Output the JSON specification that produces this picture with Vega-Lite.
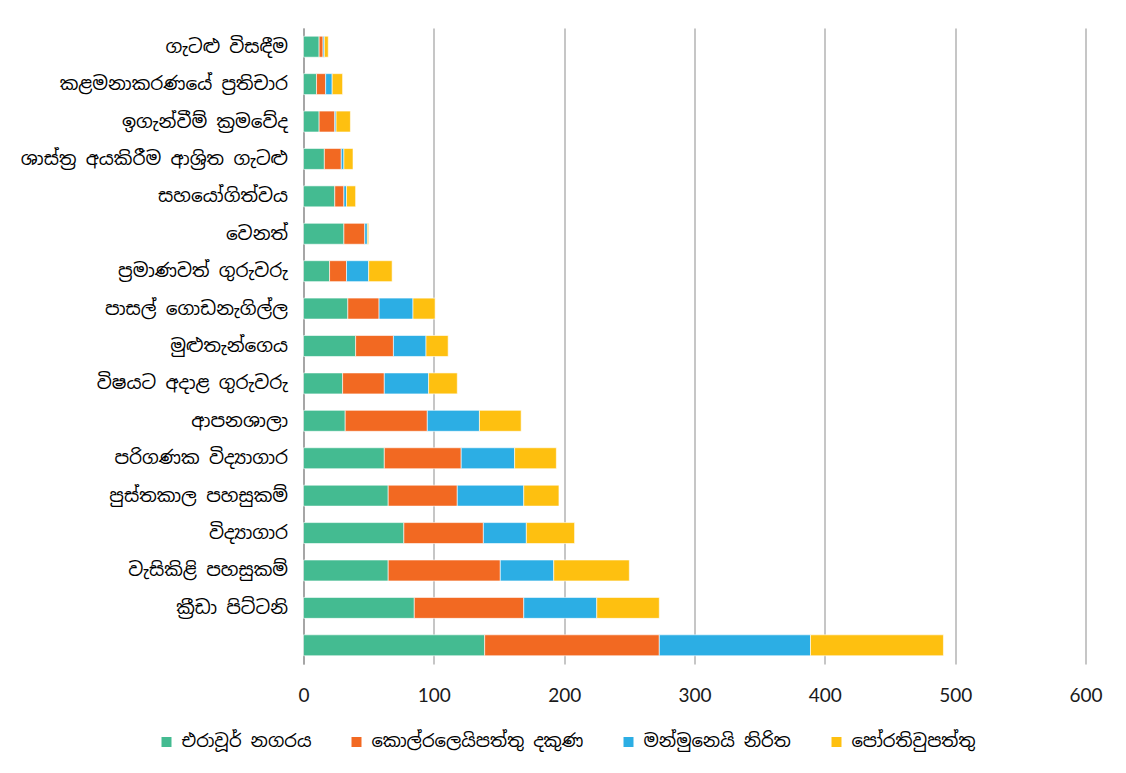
{
  "$schema": "https://vega.github.io/schema/vega-lite/v6.json",
  "width": 782,
  "height": 636,
  "autosize": "none",
  "padding": {"left": 303.5, "top": 28, "right": 40, "bottom": 109},
  "background": "white",
  "view": {"stroke": null},
  "data": {
    "values": [
      {"c": "ගැටළු විසඳීම ", "එරාවූර් නගරය": 12, "කොල්රලෙයිපත්තු දකුණ": 3, "මන්මුනෙයි නිරිත": 1, "පෝරතිවුපත්තු": 3},
      {"c": "කළමනාකරණයේ  ප්‍රතිචාර", "එරාවූර් නගරය": 10, "කොල්රලෙයිපත්තු දකුණ": 7, "මන්මුනෙයි නිරිත": 5, "පෝරතිවුපත්තු": 8},
      {"c": "ඉගැන්වීම් ක්‍රමවේද", "එරාවූර් නගරය": 12, "කොල්රලෙයිපත්තු දකුණ": 12, "මන්මුනෙයි නිරිත": 1, "පෝරතිවුපත්තු": 11},
      {"c": "ශාස්ත්‍ර අයකිරීම ආශ්‍රිත ගැටළු", "එරාවූර් නගරය": 16, "කොල්රලෙයිපත්තු දකුණ": 13, "මන්මුනෙයි නිරිත": 2, "පෝරතිවුපත්තු": 7},
      {"c": "සහයෝගිත්වය", "එරාවූර් නගරය": 24, "කොල්රලෙයිපත්තු දකුණ": 7, "මන්මුනෙයි නිරිත": 2, "පෝරතිවුපත්තු": 7},
      {"c": "වෙනත්", "එරාවූර් නගරය": 31, "කොල්රලෙයිපත්තු දකුණ": 16, "මන්මුනෙයි නිරිත": 2, "පෝරතිවුපත්තු": 1},
      {"c": "ප්‍රමාණවත් ගුරුවරු", "එරාවූර් නගරය": 20, "කොල්රලෙයිපත්තු දකුණ": 13, "මන්මුනෙයි නිරිත": 17, "පෝරතිවුපත්තු": 18},
      {"c": "පාසල් ගොඩනැගිල්ල", "එරාවූර් නගරය": 34, "කොල්රලෙයිපත්තු දකුණ": 24, "මන්මුනෙයි නිරිත": 26, "පෝරතිවුපත්තු": 17},
      {"c": "මුළුතැන්ගෙය", "එරාවූර් නගරය": 40, "කොල්රලෙයිපත්තු දකුණ": 29, "මන්මුනෙයි නිරිත": 25, "පෝරතිවුපත්තු": 17},
      {"c": "විෂයට අදාළ ගුරුවරු", "එරාවූර් නගරය": 30, "කොල්රලෙයිපත්තු දකුණ": 32, "මන්මුනෙයි නිරිත": 34, "පෝරතිවුපත්තු": 22},
      {"c": "ආපනශාලා", "එරාවූර් නගරය": 32, "කොල්රලෙයිපත්තු දකුණ": 63, "මන්මුනෙයි නිරිත": 40, "පෝරතිවුපත්තු": 32},
      {"c": "පරිගණක විද්‍යාගාර ", "එරාවූර් නගරය": 62, "කොල්රලෙයිපත්තු දකුණ": 59, "මන්මුනෙයි නිරිත": 41, "පෝරතිවුපත්තු": 32},
      {"c": "පුස්තකාල පහසුකම්", "එරාවූර් නගරය": 65, "කොල්රලෙයිපත්තු දකුණ": 53, "මන්මුනෙයි නිරිත": 51, "පෝරතිවුපත්තු": 27},
      {"c": "විද්‍යාගාර ", "එරාවූර් නගරය": 77, "කොල්රලෙයිපත්තු දකුණ": 61, "මන්මුනෙයි නිරිත": 33, "පෝරතිවුපත්තු": 37},
      {"c": "වැසිකිළි පහසුකම්", "එරාවූර් නගරය": 65, "කොල්රලෙයිපත්තු දකුණ": 86, "මන්මුනෙයි නිරිත": 41, "පෝරතිවුපත්තු": 58},
      {"c": "ක්‍රීඩා පිට්ටනි", "එරාවූර් නගරය": 85, "කොල්රලෙයිපත්තු දකුණ": 84, "මන්මුනෙයි නිරිත": 56, "පෝරතිවුපත්තු": 48},
      {"c": " ", "එරාවූර් නගරය": 139, "කොල්රලෙයිපත්තු දකුණ": 134, "මන්මුනෙයි නිරිත": 116, "පෝරතිවුපත්තු": 102}
    ]
  },
  "transform": [
    {"fold": ["එරාවූර් නගරය", "කොල්රලෙයිපත්තු දකුණ", "මන්මුනෙයි නිරිත", "පෝරතිවුපත්තු"], "as": ["series", "value"]},
    {"calculate": "indexof(['එරාවූර් නගරය', 'කොල්රලෙයිපත්තු දකුණ', 'මන්මුනෙයි නිරිත', 'පෝරතිවුපත්තු'], datum.series)", "as": "ord"}
  ],
  "mark": {"type": "bar", "stroke": "white", "strokeWidth": 0.6},
  "encoding": {
    "y": {
      "field": "c",
      "type": "nominal",
      "sort": null,
      "scale": {"paddingInner": 0.44, "paddingOuter": 0.22},
      "axis": {
        "title": null,
        "ticks": false,
        "labelFontSize": 18.5,
        "labelColor": "#000000",
        "labelPadding": 16,
        "labelFont": "Noto Sans Sinhala, Noto Sans, sans-serif",
        "labelLimit": 300,
        "domainColor": "#A6A6A6",
        "domainWidth": 2
      }
    },
    "x": {
      "field": "value",
      "type": "quantitative",
      "stack": "zero",
      "scale": {"domain": [0, 600], "nice": false},
      "axis": {
        "title": null,
        "values": [0, 100, 200, 300, 400, 500, 600],
        "domain": false,
        "ticks": false,
        "grid": true,
        "gridColor": "#C6C6C6",
        "gridWidth": 2,
        "labelFontSize": 19,
        "labelColor": "#1a1a1a",
        "labelFont": "Lato, Open Sans, sans-serif",
        "labelPadding": 22,
        "labelFlush": false
      }
    },
    "order": {"field": "ord", "type": "quantitative", "sort": "ascending"},
    "color": {
      "field": "series",
      "type": "nominal",
      "scale": {
        "domain": ["එරාවූර් නගරය", "කොල්රලෙයිපත්තු දකුණ", "මන්මුනෙයි නිරිත", "පෝරතිවුපත්තු"],
        "range": ["#44BB91", "#F26922", "#2CAEE4", "#FEC010"]
      },
      "legend": {
        "title": null,
        "orient": "none",
        "direction": "horizontal",
        "legendX": -146,
        "legendY": 705,
        "symbolType": "square",
        "symbolSize": 100,
        "symbolStrokeWidth": 0,
        "symbolOpacity": 1,
        "labelFontSize": 18,
        "labelColor": "#000000",
        "labelFont": "Noto Sans Sinhala, Noto Sans, sans-serif",
        "labelLimit": 400,
        "columnPadding": 36,
        "labelOffset": 6
      }
    }
  }
}
